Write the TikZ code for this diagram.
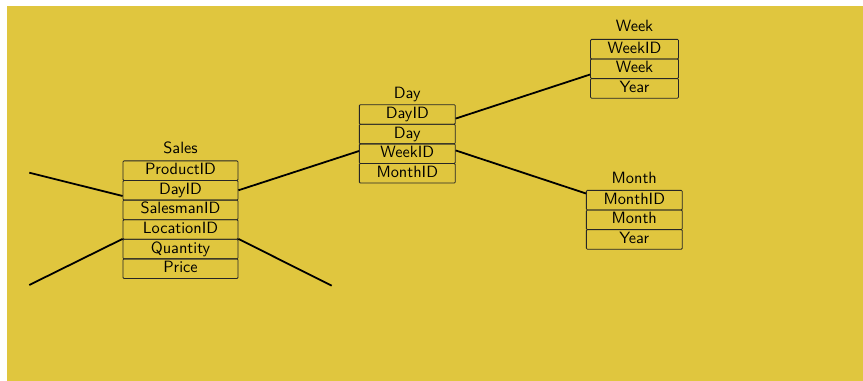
\documentclass[tikz,border=0pt]{standalone}
\usetikzlibrary{calc}
\definecolor{bg}{RGB}{224,198,62}
\begin{document}
\begin{tikzpicture}[x=0.613pt,y=-0.613pt,
  font=\sffamily,
  field/.style={draw=black!85, line width=0.5pt, rectangle, rounded corners=0.6pt,
    minimum height=12pt, inner sep=0pt, anchor=north, text height=7pt, text depth=2pt},
  title/.style={inner sep=0pt, text height=7pt, text depth=2pt},
  link/.style={line width=1.1pt, black}]
\useasboundingbox (0,0) rectangle (863,381);
\fill[bg] (7,6) rectangle (863,381);

% Sales fact table
\node[title] (stitle) at (180.5,149) {Sales};
\begin{scope}[every node/.style={field, minimum width=70.5pt}]
  \node (sprod) at (180.5,160.5) {ProductID};
  \node (sday)  at (180.5,180.1) {DayID};
  \node (ssal)  at (180.5,199.7) {SalesmanID};
  \node (sloc)  at (180.5,219.3) {LocationID};
  \node (sqty)  at (180.5,238.9) {Quantity};
  \node (sprc)  at (180.5,258.5) {Price};
\end{scope}

% Day dimension
\node[title] (dtitle) at (407.3,94) {Day};
\begin{scope}[every node/.style={field, minimum width=58.8pt}]
  \node (did)    at (407.3,104.3) {DayID};
  \node (dday)   at (407.3,123.9) {Day};
  \node (dweek)  at (407.3,143.5) {WeekID};
  \node (dmonth) at (407.3,163.1) {MonthID};
\end{scope}

% Week dimension
\node[title] (wtitle) at (634.5,27.5) {Week};
\begin{scope}[every node/.style={field, minimum width=53.9pt}]
  \node (wid)   at (634.5,39)   {WeekID};
  \node (wweek) at (634.5,58.6) {Week};
  \node (wyear) at (634.5,78.2) {Year};
\end{scope}

% Month dimension
\node[title] (mtitle) at (634.3,179.3) {Month};
\begin{scope}[every node/.style={field, minimum width=58.8pt}]
  \node (mid)    at (634.3,190)   {MonthID};
  \node (mmonth) at (634.3,209.6) {Month};
  \node (myear)  at (634.3,229.2) {Year};
\end{scope}

% links
\coordinate (fl1) at (29.3,172.7);
\coordinate (fl2) at (29.3,285);
\coordinate (fr3) at (331.7,285.7);
\draw[link] (fl1) -- ($(sday.north west)!0.78!(sday.south west)$);
\draw[link] (fl2) -- (sqty.north west);
\draw[link] (sqty.north east) -- (fr3);
\draw[link] (sday.east) -- ($(dweek.north west)!0.37!(dweek.south west)$);
\draw[link] ($(did.north east)!0.7!(did.south east)$) -- ($(wweek.north west)!0.78!(wweek.south west)$);
\draw[link] ($(dweek.north east)!0.34!(dweek.south east)$) -- ($(mid.north west)!0.17!(mid.south west)$);
\end{tikzpicture}
\end{document}
